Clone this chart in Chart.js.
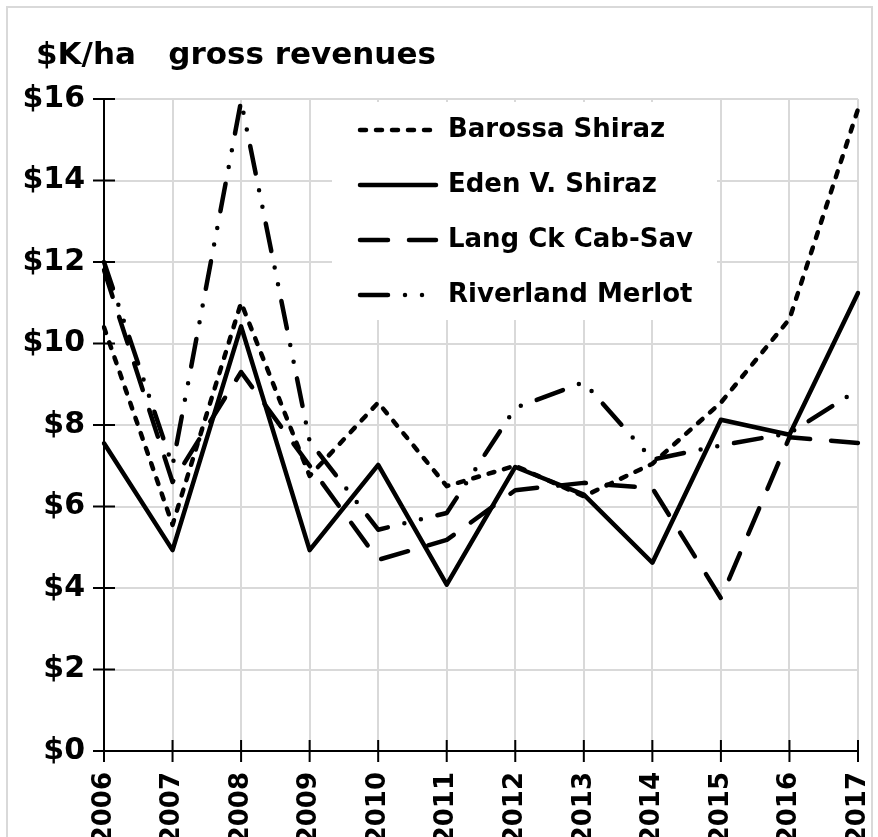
<!DOCTYPE html>
<html>
<head>
<meta charset="utf-8">
<title>$K/ha gross revenues</title>
<script src="https://cdn.jsdelivr.net/npm/chart.js@4.4.1/dist/chart.umd.min.js"></script>
<style>
    html, body { margin: 0; padding: 0; background: #fff; }
    #marco { position: absolute; left: 6px; top: 6px; width: 867px; height: 900px; border: 2px solid #d9d9d9; box-sizing: border-box; }
    #lienzo { position: absolute; left: 0; top: 0; }
</style>
</head>
<body>
<div id="marco"></div>
<canvas id="lienzo" width="878" height="837"></canvas>
<script>
// Datos ($K por hectárea)
const years = ['2006', '2007', '2008', '2009', '2010', '2011', '2012', '2013', '2014', '2015', '2016', '2017'];
const barossaShiraz   = [10.4, 5.55, 11.0, 6.75, 8.55, 6.5, 7.0, 6.25, 7.05, 8.55, 10.6, 15.75];
const edenVShiraz     = [7.55, 4.93, 10.42, 4.93, 7.02, 4.08, 6.97, 6.29, 4.62, 8.13, 7.76, 11.24];
const langCkCabSav    = [11.8, 6.6, 9.3, 7.0, 4.69, 5.18, 6.4, 6.58, 6.45, 3.75, 7.7, 7.56];
const riverlandMerlot = [12.0, 7.0, 15.95, 7.6, 5.43, 5.84, 8.42, 9.05, 7.15, 7.5, 7.8, 8.86];
const yTickValues = [0, 2, 4, 6, 8, 10, 12, 14, 16];
const chartTitle = '$K/ha   gross revenues';

const FONT = '"DejaVu Sans", Verdana, sans-serif';

// Título arriba a la izquierda
const tituloPlugin = {
    id: 'tituloPlugin',
    afterDraw(chart) {
        const ctx = chart.ctx;
        ctx.save();
        ctx.fillStyle = '#000';
        ctx.font = 'bold 31px ' + FONT;
        ctx.textBaseline = 'middle';
        ctx.fillText(chartTitle, 36, 56);
        ctx.restore();
    }
};

// Leyenda en recuadro blanco dentro del área
const leyendaPlugin = {
    id: 'leyendaPlugin',
    beforeDatasetsDraw(chart) {
        const ctx = chart.ctx;
        const a = chart.chartArea;
        const left = a.left + 228, top = a.top + 3;
        ctx.save();
        ctx.fillStyle = '#fff';
        ctx.fillRect(left, top, 385, 218);
        chart.data.datasets.forEach((ds, i) => {
            const cy = a.top + 31 + i * 55;
            ctx.beginPath();
            ctx.setLineDash(ds.borderDash);
            ctx.lineCap = 'round';
            ctx.lineWidth = ds.borderWidth;
            ctx.strokeStyle = ds.borderColor;
            ctx.moveTo(left + 28, cy);
            ctx.lineTo(left + 104, cy);
            ctx.stroke();
            ctx.setLineDash([]);
            ctx.fillStyle = '#000';
            ctx.font = 'bold 26px ' + FONT;
            ctx.textBaseline = 'middle';
            ctx.fillText(ds.label, left + 116, cy);
        });
        ctx.restore();
    }
};

// Marcas que cruzan los ejes
const marcasPlugin = {
    id: 'marcasPlugin',
    beforeDatasetsDraw(chart) {
        const { ctx, scales: { x, y } } = chart;
        ctx.save();
        ctx.strokeStyle = '#000';
        ctx.lineWidth = 2;
        ctx.beginPath();
        x.ticks.forEach((t, i) => {
            const px = x.getPixelForTick(i);
            ctx.moveTo(px, y.bottom - 11);
            ctx.lineTo(px, y.bottom + 11);
        });
        y.ticks.forEach((t, i) => {
            const py = y.getPixelForTick(i);
            ctx.moveTo(x.left - 11, py);
            ctx.lineTo(x.left + 11, py);
        });
        ctx.stroke();
        ctx.restore();
    }
};

function serie(label, data, dash) {
    return {
        label: label,
        data: data,
        borderColor: '#000',
        borderWidth: 4.5,
        borderDash: dash,
        borderCapStyle: 'round',
        borderJoinStyle: 'round',
        pointRadius: 0,
        tension: 0,
        fill: false
    };
}

new Chart(document.getElementById('lienzo'), {
    type: 'line',
    data: {
        labels: years,
        datasets: [
            serie('Barossa Shiraz', barossaShiraz, [6, 10]),
            serie('Eden V. Shiraz', edenVShiraz, []),
            serie('Lang Ck Cab-Sav', langCkCabSav, [28, 21]),
            serie('Riverland Merlot', riverlandMerlot, [28, 17, 0, 17, 0, 17])
        ]
    },
    options: {
        responsive: false,
        animation: false,
        devicePixelRatio: 1,
        layout: { padding: { top: 99, right: 20, left: 0, bottom: 0 } },
        plugins: { legend: { display: false }, tooltip: { enabled: false } },
        scales: {
            x: {
                offset: false,
                grid: { color: '#d9d9d9', lineWidth: 2, drawTicks: false },
                border: { color: '#000', width: 2 },
                ticks: {
                    autoSkip: false, minRotation: 90, maxRotation: 90, padding: 21, color: '#000',
                    font: { family: FONT, size: 26, weight: 'bold' }
                },
                afterFit(s) { s.height = 86; s.paddingLeft = 0; s.paddingRight = 0; }
            },
            y: {
                min: 0,
                max: 16,
                afterBuildTicks(s) { s.ticks = yTickValues.map(v => ({ value: v })); },
                grid: { color: '#d9d9d9', lineWidth: 2, drawTicks: false },
                border: { color: '#000', width: 2 },
                ticks: {
                    padding: 19, color: '#000',
                    font: { family: FONT, size: 30, weight: 'bold' },
                    callback: v => '$' + v
                },
                afterFit(s) { s.width = 104; s.paddingTop = 0; s.paddingBottom = 0; }
            }
        }
    },
    plugins: [leyendaPlugin, marcasPlugin, tituloPlugin]
});
</script>
</body>
</html>
